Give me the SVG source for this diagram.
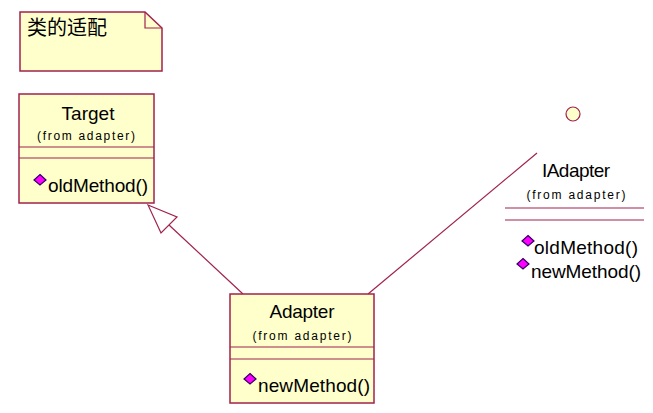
<svg xmlns="http://www.w3.org/2000/svg" width="653" height="413" viewBox="0 0 653 413">
<style>
.box{fill:#FFFFCC;stroke:#A0224E;stroke-width:1.5}
.ln{stroke:#A0224E;stroke-width:1.2;fill:none}
.t{font-family:"Liberation Sans",Arial,sans-serif;font-size:19px;fill:#000}
.s{font-family:"Liberation Sans",Arial,sans-serif;font-size:12px;fill:#000}
.c{text-anchor:middle}
.dm{fill:#FF00FF;stroke:#330066;stroke-width:1.2}
</style>
<defs>
<polygon id="dia" points="0,-5.5 6,0 0,5 -6,0" class="dm"/>
</defs>
<rect width="653" height="413" fill="#fff"/>
<g id="note">
<path class="box" d="M20,12 H145 L162,28 V71 H20 Z"/>
<path class="ln" d="M145,12 V28 H162"/>
<text x="27" y="35" class="t" style="font-family:'Noto Sans CJK SC','Liberation Sans',sans-serif;font-size:20px">类的适配</text>
</g>
<g id="connectors">
<line class="ln" x1="243" y1="294" x2="169" y2="225"/>
<polygon points="148,205 177,217 161,233" fill="#fff" stroke="#A0224E" stroke-width="1.2"/>
<line class="ln" x1="368" y1="294" x2="537" y2="153"/>
</g>
<g id="Target">
<rect class="box" x="19" y="94" width="135" height="109"/>
<line class="ln" x1="19" y1="147" x2="154" y2="147"/>
<line class="ln" x1="19" y1="158" x2="154" y2="158"/>
<text x="88" y="120" class="t c" textLength="53">Target</text>
<text x="86" y="140" class="s c" textLength="98">(from adapter)</text>
<use href="#dia" x="40" y="180"/>
<text x="48" y="192" class="t" textLength="100">oldMethod()</text>
</g>
<g id="Adapter">
<rect class="box" x="230" y="294" width="144" height="109"/>
<line class="ln" x1="230" y1="347" x2="374" y2="347"/>
<line class="ln" x1="230" y1="359" x2="374" y2="359"/>
<text x="302" y="318" class="t c" textLength="65">Adapter</text>
<text x="302" y="340" class="s c" textLength="99">(from adapter)</text>
<use href="#dia" x="250" y="379"/>
<text x="258" y="392" class="t" textLength="112">newMethod()</text>
</g>
<g id="IAdapter">
<circle cx="573" cy="114" r="7" fill="#FFFFCC" stroke="#A0224E" stroke-width="1.2"/>
<text x="576" y="177" class="t c" textLength="68">IAdapter</text>
<text x="576" y="199" class="s c" textLength="99">(from adapter)</text>
<line class="ln" x1="505" y1="208" x2="644" y2="208"/>
<line class="ln" x1="505" y1="220" x2="644" y2="220"/>
<use href="#dia" x="528" y="241"/>
<text x="534" y="254" class="t" textLength="104">oldMethod()</text>
<use href="#dia" x="523" y="264"/>
<text x="531" y="278" class="t" textLength="110">newMethod()</text>
</g>
</svg>
